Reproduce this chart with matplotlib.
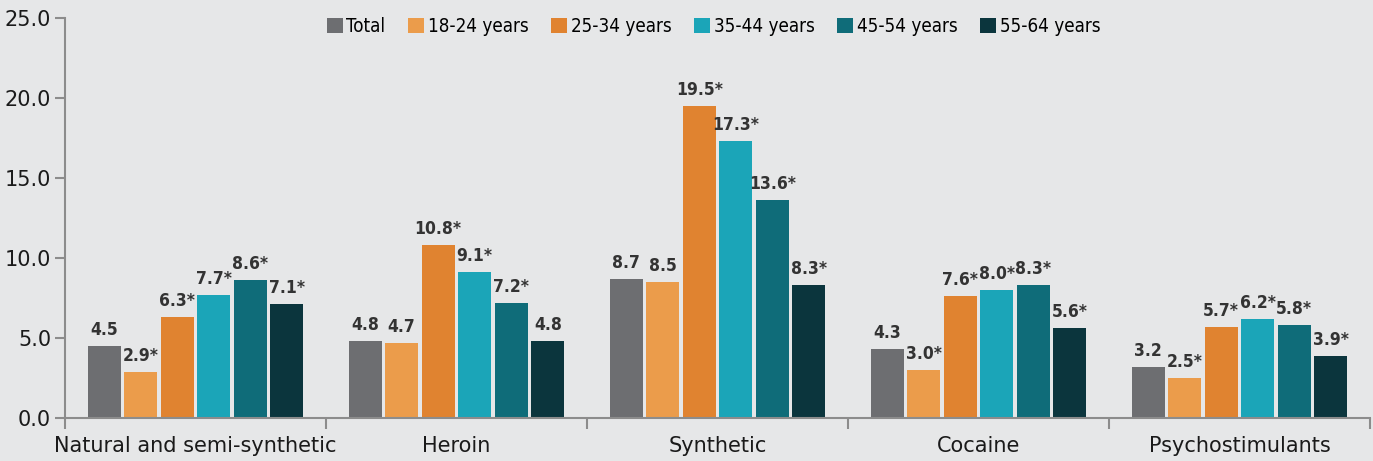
import matplotlib.pyplot as plt
from matplotlib.font_manager import FontProperties
import numpy as np

categories = ['Natural and semi-synthetic', 'Heroin', 'Synthetic', 'Cocaine', 'Psychostimulants']
series_names = ['Total', '18-24 years', '25-34 years', '35-44 years', '45-54 years', '55-64 years']
total = [4.5, 4.8, 8.7, 4.3, 3.2]
age_18_24 = [2.9, 4.7, 8.5, 3.0, 2.5]
age_25_34 = [6.3, 10.8, 19.5, 7.6, 5.7]
age_35_44 = [7.7, 9.1, 17.3, 8.0, 6.2]
age_45_54 = [8.6, 7.2, 13.6, 8.3, 5.8]
age_55_64 = [7.1, 4.8, 8.3, 5.6, 3.9]
# significance marks (*) per series, per category
star_total = [False, False, False, False, False]
star_18_24 = [True, False, False, True, True]
star_25_34 = [True, True, True, True, True]
star_35_44 = [True, True, True, True, True]
star_45_54 = [True, True, True, True, True]
star_55_64 = [True, False, True, True, True]

series = [total, age_18_24, age_25_34, age_35_44, age_45_54, age_55_64]
stars = [star_total, star_18_24, star_25_34, star_35_44, star_45_54, star_55_64]
colors = ['#6d6e71', '#eb9c4b', '#e08330', '#1ba5b8', '#0f6c79', '#0b353d']

bg = '#e6e7e8'
fig = plt.figure(figsize=(13.73, 4.61), dpi=100, facecolor=bg)
ax = fig.add_axes([0.0473, 0.0933, 0.9505, 0.8677], facecolor=bg)

x = np.arange(len(categories)) + 0.5
pitch = 0.14
width = 0.127
for i, (vals, st) in enumerate(zip(series, stars)):
    pos = x + (i - 2.5) * pitch
    bars = ax.bar(pos, vals, width, color=colors[i], label=series_names[i], zorder=2)
    labels = ['%.1f%s' % (v, '*' if s else '') for v, s in zip(vals, st)]
    ax.bar_label(bars, labels=labels, padding=5, fontsize=12.5, fontweight='bold',
                 color='#333333', family='DejaVu Sans', fontstretch='condensed')

ax.set_xlim(0, len(categories))
ax.set_ylim(0, 25)
ax.set_yticks(np.arange(0, 25.1, 5))
ax.set_yticklabels(['%.1f' % v for v in np.arange(0, 25.1, 5)])
ax.set_xticks(np.arange(len(categories) + 1))
ax.set_xticklabels([])
ax.set_xticks(x, minor=True)
ax.set_xticklabels(categories, minor=True)
ax.tick_params(axis='x', which='minor', length=0, pad=13, labelsize=15, labelcolor='#1a1a1a')
ax.tick_params(axis='x', which='major', length=8, width=1.5, color='#8c8c8c', direction='out')
ax.tick_params(axis='y', length=7, width=1.5, color='#8c8c8c', labelsize=15,
               labelcolor='#1a1a1a', pad=3)
for s in ['top', 'right']:
    ax.spines[s].set_visible(False)
for s in ['left', 'bottom']:
    ax.spines[s].set_color('#8c8c8c')
    ax.spines[s].set_linewidth(1.5)

leg_font = FontProperties(family='DejaVu Sans', stretch='condensed', size=13.5)
ax.legend(loc='upper center', bbox_to_anchor=(0.497, 1.045), ncol=6, frameon=False,
          prop=leg_font, handlelength=0.85, handleheight=0.9, handletextpad=0.2,
          columnspacing=1.2)

plt.savefig('out.png', dpi=100, facecolor=bg)
